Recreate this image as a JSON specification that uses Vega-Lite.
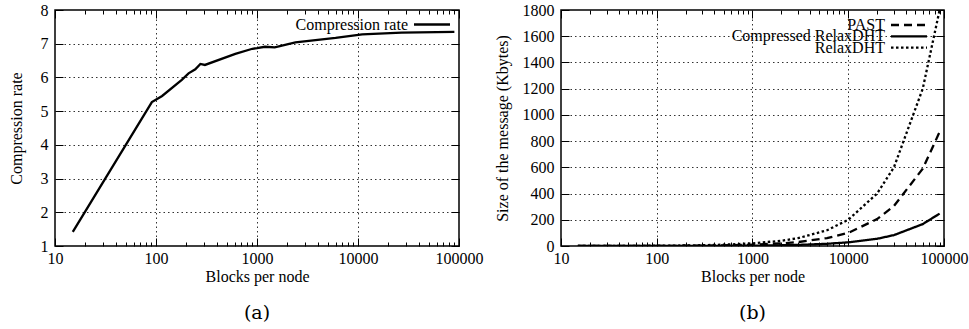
{
  "$schema": "https://vega.github.io/schema/vega-lite/v6.json",
  "background": "white",
  "padding": {"left": 7, "top": 1, "right": 5, "bottom": 5},
  "datasets": {
    "rate": [
      {"blocks": 15, "rate": 1.42, "series": "Compression rate"},
      {"blocks": 91, "rate": 5.27, "series": "Compression rate"},
      {"blocks": 115, "rate": 5.45, "series": "Compression rate"},
      {"blocks": 180, "rate": 5.93, "series": "Compression rate"},
      {"blocks": 210, "rate": 6.12, "series": "Compression rate"},
      {"blocks": 245, "rate": 6.24, "series": "Compression rate"},
      {"blocks": 275, "rate": 6.4, "series": "Compression rate"},
      {"blocks": 305, "rate": 6.37, "series": "Compression rate"},
      {"blocks": 610, "rate": 6.7, "series": "Compression rate"},
      {"blocks": 900, "rate": 6.85, "series": "Compression rate"},
      {"blocks": 1000, "rate": 6.87, "series": "Compression rate"},
      {"blocks": 1200, "rate": 6.91, "series": "Compression rate"},
      {"blocks": 1500, "rate": 6.89, "series": "Compression rate"},
      {"blocks": 2400, "rate": 7.04, "series": "Compression rate"},
      {"blocks": 6000, "rate": 7.17, "series": "Compression rate"},
      {"blocks": 11000, "rate": 7.28, "series": "Compression rate"},
      {"blocks": 27000, "rate": 7.33, "series": "Compression rate"},
      {"blocks": 90000, "rate": 7.35, "series": "Compression rate"}
    ],
    "size": [
      {"blocks": 15, "series": "PAST", "size": 0.15},
      {"blocks": 30, "series": "PAST", "size": 0.3},
      {"blocks": 50, "series": "PAST", "size": 0.5},
      {"blocks": 100, "series": "PAST", "size": 1},
      {"blocks": 200, "series": "PAST", "size": 2},
      {"blocks": 300, "series": "PAST", "size": 3},
      {"blocks": 600, "series": "PAST", "size": 6},
      {"blocks": 1000, "series": "PAST", "size": 10},
      {"blocks": 2000, "series": "PAST", "size": 20},
      {"blocks": 3000, "series": "PAST", "size": 30},
      {"blocks": 6000, "series": "PAST", "size": 60},
      {"blocks": 10000, "series": "PAST", "size": 100},
      {"blocks": 20000, "series": "PAST", "size": 205},
      {"blocks": 30000, "series": "PAST", "size": 305},
      {"blocks": 60000, "series": "PAST", "size": 590},
      {"blocks": 90000, "series": "PAST", "size": 870},
      {"blocks": 15, "series": "Compressed RelaxDHT", "size": 0.21},
      {"blocks": 30, "series": "Compressed RelaxDHT", "size": 0.19},
      {"blocks": 50, "series": "Compressed RelaxDHT", "size": 0.23},
      {"blocks": 100, "series": "Compressed RelaxDHT", "size": 0.37},
      {"blocks": 200, "series": "Compressed RelaxDHT", "size": 0.66},
      {"blocks": 300, "series": "Compressed RelaxDHT", "size": 0.94},
      {"blocks": 600, "series": "Compressed RelaxDHT", "size": 1.8},
      {"blocks": 1000, "series": "Compressed RelaxDHT", "size": 2.9},
      {"blocks": 2000, "series": "Compressed RelaxDHT", "size": 5.7},
      {"blocks": 3000, "series": "Compressed RelaxDHT", "size": 8.5},
      {"blocks": 6000, "series": "Compressed RelaxDHT", "size": 16.7},
      {"blocks": 10000, "series": "Compressed RelaxDHT", "size": 28},
      {"blocks": 20000, "series": "Compressed RelaxDHT", "size": 55},
      {"blocks": 30000, "series": "Compressed RelaxDHT", "size": 83},
      {"blocks": 60000, "series": "Compressed RelaxDHT", "size": 167},
      {"blocks": 90000, "series": "Compressed RelaxDHT", "size": 247},
      {"blocks": 15, "series": "RelaxDHT", "size": 0.3},
      {"blocks": 30, "series": "RelaxDHT", "size": 0.6},
      {"blocks": 50, "series": "RelaxDHT", "size": 1},
      {"blocks": 100, "series": "RelaxDHT", "size": 2},
      {"blocks": 200, "series": "RelaxDHT", "size": 4},
      {"blocks": 300, "series": "RelaxDHT", "size": 6},
      {"blocks": 600, "series": "RelaxDHT", "size": 12},
      {"blocks": 1000, "series": "RelaxDHT", "size": 20},
      {"blocks": 2000, "series": "RelaxDHT", "size": 40},
      {"blocks": 3000, "series": "RelaxDHT", "size": 60},
      {"blocks": 6000, "series": "RelaxDHT", "size": 120},
      {"blocks": 10000, "series": "RelaxDHT", "size": 200},
      {"blocks": 20000, "series": "RelaxDHT", "size": 400},
      {"blocks": 30000, "series": "RelaxDHT", "size": 600},
      {"blocks": 60000, "series": "RelaxDHT", "size": 1200},
      {"blocks": 90000, "series": "RelaxDHT", "size": 1800}
    ]
  },
  "bounds": "flush",
  "spacing": 102,
  "hconcat": [
    {
      "width": 404,
      "height": 236,
      "data": {"name": "rate"},
      "title": {"text": "(a)", "orient": "bottom", "fontSize": 19, "fontWeight": "normal", "font": "DejaVu Serif", "offset": 20},
      "resolve": {"axis": {"x": "independent", "y": "independent"}},
      "layer": [
        {
          "mark": {"type": "line", "strokeWidth": 2.3, "clip": true},
          "encoding": {
            "x": {
              "field": "blocks", "type": "quantitative",
              "scale": {"type": "log", "domain": [10, 100000], "nice": false},
              "axis": {
                "title": "Blocks per node", "labelPadding": 12, "titlePadding": -2,
                "values": [10,20,30,40,50,60,70,80,90,100,200,300,400,500,600,700,800,900,1000,2000,3000,4000,5000,6000,7000,8000,9000,10000,20000,30000,40000,50000,60000,70000,80000,90000,100000],
                "labelExpr": "abs(log(datum.value)/LN10 - round(log(datum.value)/LN10)) < 0.000001 ? format(datum.value, 'd') : ''",
                "tickSize": {"condition": {"test": "abs(log(datum.value)/LN10 - round(log(datum.value)/LN10)) < 0.000001", "value": -8}, "value": -4},
                "gridOpacity": {"condition": {"test": "abs(log(datum.value)/LN10 - round(log(datum.value)/LN10)) < 0.000001 && datum.value > 10 && datum.value < 100000", "value": 1}, "value": 0},
                "grid": true
              }
            },
            "y": {
              "field": "rate", "type": "quantitative",
              "scale": {"domain": [1, 8], "nice": false, "zero": false},
              "axis": {"title": "Compression rate", "format": "d", "labelPadding": 15, "titlePadding": 16, "values": [1,2,3,4,5,6,7,8], "tickSize": -8, "grid": true,
                "gridOpacity": {"condition": {"test": "datum.value > 1 && datum.value < 8", "value": 1}, "value": 0}}
            },
            "color": {
              "field": "series", "type": "nominal",
              "scale": {"range": ["black"]},
              "legend": {"title": null, "orient": "none", "legendX": 369, "legendY": 6.5, "symbolType": "M-3,0H3", "symbolSize": 144, "symbolStrokeWidth": 2.3, "labelAlign": "right", "labelOffset": -32}
            }
          }
        },
        {
          "mark": {"type": "line", "opacity": 0},
          "encoding": {
            "x": {
              "field": "blocks", "type": "quantitative",
              "scale": {"type": "log", "domain": [10, 100000], "nice": false},
              "axis": {
                "orient": "top", "title": null, "labels": false, "grid": false,
                "values": [10,20,30,40,50,60,70,80,90,100,200,300,400,500,600,700,800,900,1000,2000,3000,4000,5000,6000,7000,8000,9000,10000,20000,30000,40000,50000,60000,70000,80000,90000,100000],
                "tickSize": {"condition": {"test": "abs(log(datum.value)/LN10 - round(log(datum.value)/LN10)) < 0.000001", "value": -8}, "value": -4}
              }
            },
            "y": {
              "field": "rate", "type": "quantitative",
              "scale": {"domain": [1, 8], "nice": false, "zero": false},
              "axis": {"orient": "right", "title": null, "labels": false, "grid": false, "values": [1,2,3,4,5,6,7,8], "tickSize": -8}
            }
          }
        }
      ]
    },
    {
      "width": 383,
      "height": 236,
      "data": {"name": "size"},
      "title": {"text": "(b)", "orient": "bottom", "fontSize": 19, "fontWeight": "normal", "font": "DejaVu Serif", "offset": 20},
      "resolve": {
        "axis": {"x": "independent", "y": "independent"},
        "scale": {"strokeDash": "independent"},
        "legend": {"strokeDash": "independent"}
      },
      "layer": [
        {
          "transform": [{"filter": "datum.series === 'PAST'"}],
          "mark": {"type": "line", "strokeWidth": 2.3, "clip": true, "color": "black"},
          "encoding": {
            "x": {
              "field": "blocks", "type": "quantitative",
              "scale": {"type": "log", "domain": [10, 100000], "nice": false},
              "axis": {
                "title": "Blocks per node", "labelPadding": 12, "titlePadding": -2,
                "values": [10,20,30,40,50,60,70,80,90,100,200,300,400,500,600,700,800,900,1000,2000,3000,4000,5000,6000,7000,8000,9000,10000,20000,30000,40000,50000,60000,70000,80000,90000,100000],
                "labelExpr": "abs(log(datum.value)/LN10 - round(log(datum.value)/LN10)) < 0.000001 ? format(datum.value, 'd') : ''",
                "tickSize": {"condition": {"test": "abs(log(datum.value)/LN10 - round(log(datum.value)/LN10)) < 0.000001", "value": -8}, "value": -4},
                "gridOpacity": {"condition": {"test": "abs(log(datum.value)/LN10 - round(log(datum.value)/LN10)) < 0.000001 && datum.value > 10 && datum.value < 100000", "value": 1}, "value": 0},
                "grid": true
              }
            },
            "y": {
              "field": "size", "type": "quantitative",
              "scale": {"domain": [0, 1800], "nice": false},
              "axis": {"title": "Size of the message (Kbytes)", "format": "d", "labelPadding": 15, "titlePadding": 12, "values": [0,200,400,600,800,1000,1200,1400,1600,1800], "tickSize": -8, "grid": true,
                "gridOpacity": {"condition": {"test": "datum.value > 0 && datum.value < 1800", "value": 1}, "value": 0}}
            },
            "strokeDash": {
              "field": "series", "type": "nominal",
              "scale": {"domain": ["PAST"], "range": [[8, 5]]},
              "legend": {"title": null, "orient": "none", "legendX": 340, "legendY": 7, "symbolType": "M-3,0H3", "symbolSize": 144, "symbolStrokeWidth": 2.3, "symbolStrokeColor": "black", "labelAlign": "right", "labelOffset": -32}
            }
          }
        },
        {
          "transform": [{"filter": "datum.series === 'Compressed RelaxDHT'"}],
          "mark": {"type": "line", "strokeWidth": 2.3, "clip": true, "color": "black"},
          "encoding": {
            "x": {"field": "blocks", "type": "quantitative", "axis": null},
            "y": {"field": "size", "type": "quantitative", "axis": null},
            "strokeDash": {
              "field": "series", "type": "nominal",
              "scale": {"domain": ["Compressed RelaxDHT"], "range": [[1, 0]]},
              "legend": {"title": null, "orient": "none", "legendX": 340, "legendY": 18.3, "symbolType": "M-3,0H3", "symbolSize": 144, "symbolStrokeWidth": 2.3, "symbolStrokeColor": "black", "labelAlign": "right", "labelOffset": -32}
            }
          }
        },
        {
          "transform": [{"filter": "datum.series === 'RelaxDHT'"}],
          "mark": {"type": "line", "strokeWidth": 2.3, "clip": true, "color": "black"},
          "encoding": {
            "x": {"field": "blocks", "type": "quantitative", "axis": null},
            "y": {"field": "size", "type": "quantitative", "axis": null},
            "strokeDash": {
              "field": "series", "type": "nominal",
              "scale": {"domain": ["RelaxDHT"], "range": [[2.5, 2.5]]},
              "legend": {"title": null, "orient": "none", "legendX": 340, "legendY": 29.6, "symbolType": "M-3,0H3", "symbolSize": 144, "symbolStrokeWidth": 2.3, "symbolStrokeColor": "black", "labelAlign": "right", "labelOffset": -32}
            }
          }
        },
        {
          "mark": {"type": "line", "opacity": 0},
          "encoding": {
            "x": {
              "field": "blocks", "type": "quantitative",
              "scale": {"type": "log", "domain": [10, 100000], "nice": false},
              "axis": {
                "orient": "top", "title": null, "labels": false, "grid": false,
                "values": [10,20,30,40,50,60,70,80,90,100,200,300,400,500,600,700,800,900,1000,2000,3000,4000,5000,6000,7000,8000,9000,10000,20000,30000,40000,50000,60000,70000,80000,90000,100000],
                "tickSize": {"condition": {"test": "abs(log(datum.value)/LN10 - round(log(datum.value)/LN10)) < 0.000001", "value": -8}, "value": -4}
              }
            },
            "y": {
              "field": "size", "type": "quantitative",
              "scale": {"domain": [0, 1800], "nice": false},
              "axis": {"orient": "right", "title": null, "labels": false, "grid": false, "values": [0,200,400,600,800,1000,1200,1400,1600,1800], "tickSize": -8}
            }
          }
        }
      ]
    }
  ],
  "config": {
    "font": "'Liberation Serif', 'Times New Roman', serif",
    "view": {"stroke": "black", "strokeWidth": 1.5},
    "axis": {
      "labelFont": "'Liberation Serif', 'Times New Roman', serif", "titleFont": "'Liberation Serif', 'Times New Roman', serif",
      "labelFontSize": 16, "titleFontSize": 16, "titleFontWeight": "normal",
      "labelColor": "black", "titleColor": "black",
      "domain": false, "tickColor": "black", "tickWidth": 1,
      "gridColor": "#333", "gridDash": [1.5, 3], "gridWidth": 1,
      "labelFlush": false, "labelOverlap": false
    },
    "legend": {"labelFont": "'Liberation Serif', 'Times New Roman', serif", "labelFontSize": 16, "labelColor": "black", "labelLimit": 400}
  }
}
